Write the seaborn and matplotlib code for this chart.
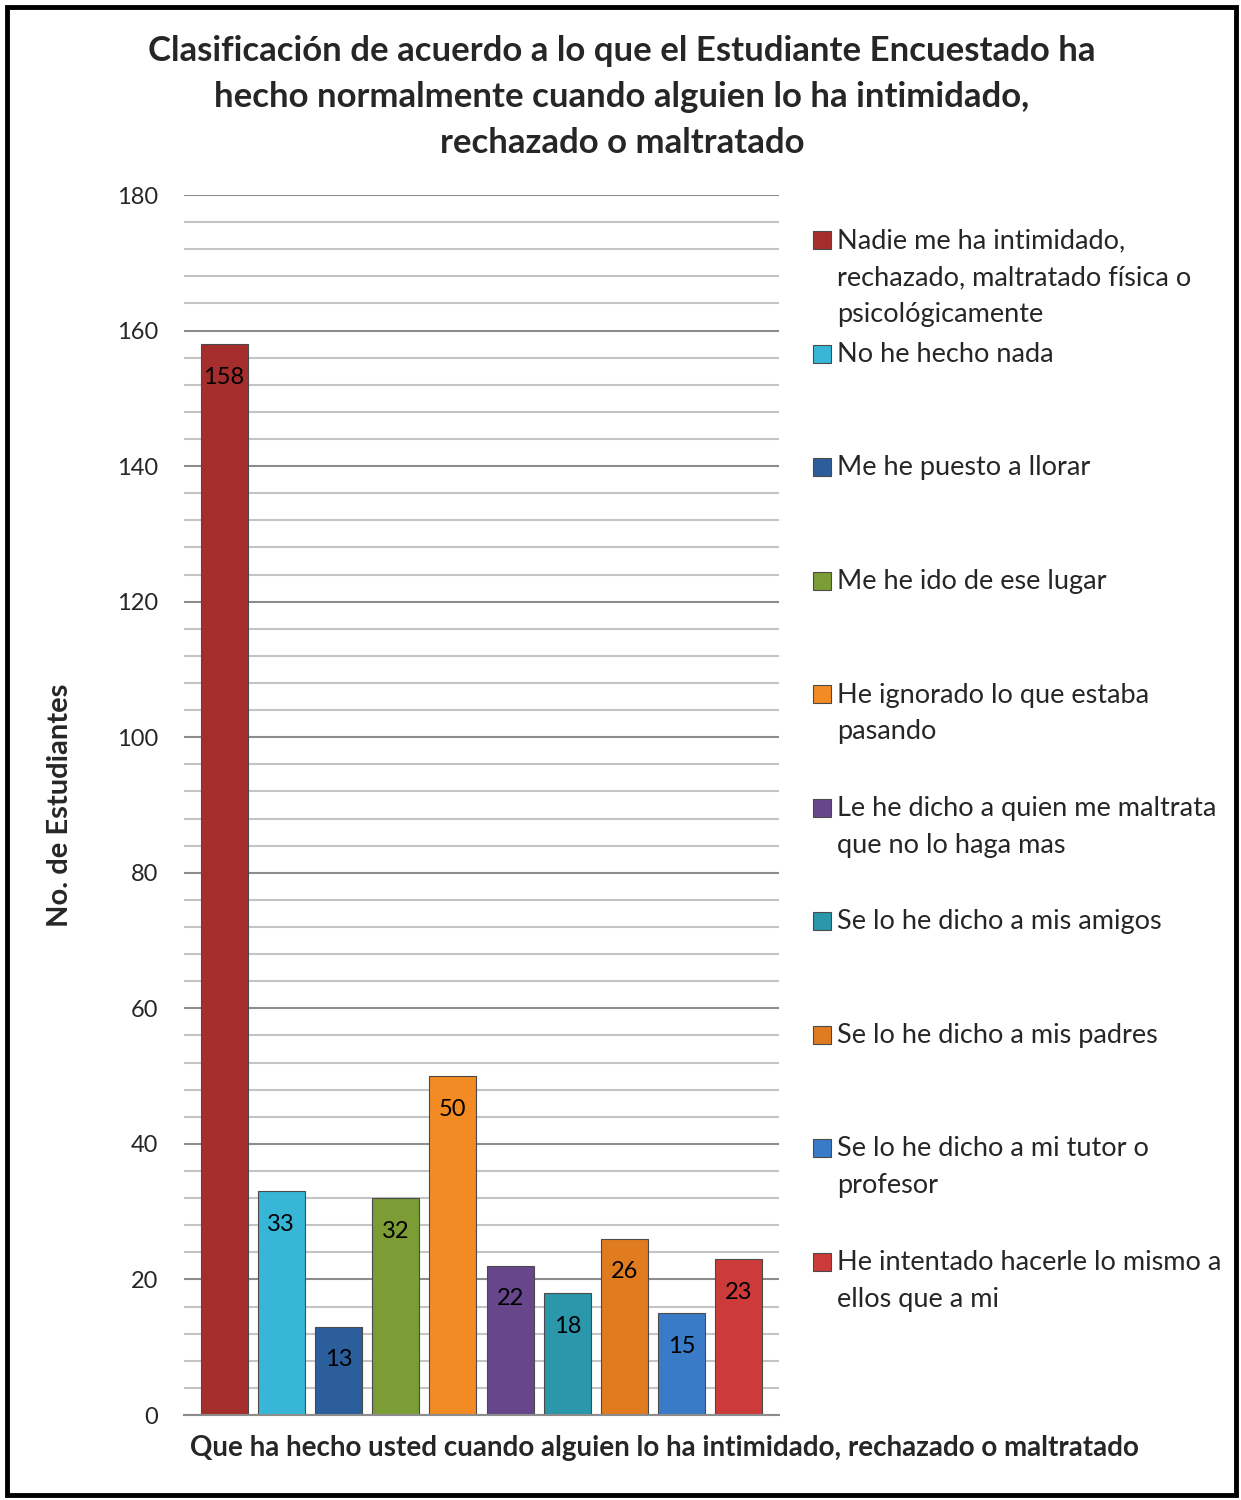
import matplotlib
matplotlib.use("Agg")
import matplotlib.pyplot as plt
import seaborn as sns
import pandas as pd
from matplotlib.patches import Rectangle

categories = [
    "Nadie me ha intimidado,\nrechazado, maltratado física o\npsicológicamente",
    "No he hecho nada",
    "Me he puesto a llorar",
    "Me he ido de ese lugar",
    "He ignorado lo que estaba\npasando",
    "Le he dicho a quien me maltrata\nque no lo haga mas",
    "Se lo he dicho a mis amigos",
    "Se lo he dicho a mis padres",
    "Se lo he dicho a mi tutor o\nprofesor",
    "He intentado hacerle lo mismo a\nellos que a mi",
]
values = [158, 33, 13, 32, 50, 22, 18, 26, 15, 23]
colors = ["#A52E2C", "#38B6D8", "#2D5E9C", "#7C9C36", "#F38B25",
          "#67468C", "#2A97AB", "#E07B20", "#3A7BC8", "#CC3B3A"]

title = ("Clasificación de acuerdo a lo que el Estudiante Encuestado ha\n"
         "hecho normalmente cuando alguien lo ha intimidado,\n"
         "rechazado o maltratado")
ylabel = "No. de Estudiantes"
xlabel = "Que ha hecho usted cuando alguien lo ha intimidado, rechazado o maltratado"

sns.set_theme(style="white")
plt.rcParams['font.family'] = ['Lato', 'DejaVu Sans']

W, H = 1241, 1500
fig = plt.figure(figsize=(W / 100, H / 100), dpi=100)
fig.patch.set_facecolor("white")

ax_l, ax_r, ax_t, ax_b = 184, 779, 195, 1415
ax = fig.add_axes([ax_l / W, 1 - ax_b / H, (ax_r - ax_l) / W, (ax_b - ax_t) / H])

df = pd.DataFrame({"cat": categories, "val": values})
sns.barplot(data=df, x="cat", y="val", hue="cat", palette=colors,
            legend=False, width=0.82, ax=ax, saturation=1,
            edgecolor="#4a4a4a", linewidth=0.8)

ax.set_ylim(0, 180)
ax.set_xlim(-0.7, 9.7)
ax.set_yticks(range(0, 181, 20))
ax.set_yticks(range(0, 181, 4), minor=True)
ax.grid(axis="y", which="major", color="#8c8c8c", linewidth=1.5, zorder=0)
ax.grid(axis="y", which="minor", color="#c4c4c4", linewidth=1.5, zorder=0)
ax.set_axisbelow(True)
for s in ["top", "right", "left"]:
    ax.spines[s].set_visible(False)
ax.spines["bottom"].set_color("#8c8c8c")
ax.spines["bottom"].set_linewidth(1.5)
ax.set_xticks([])
ax.tick_params(axis="y", which="both", length=0, pad=18.5, labelsize=17)
ax.set_xlabel("")
ax.set_ylabel("")

for cont in ax.containers:
    for p in cont:
        h = p.get_height()
        ax.annotate(f"{int(round(h))}", (p.get_x() + p.get_width() / 2, h),
                    xytext=(0, -23.8), textcoords="offset points",
                    ha="center", va="center", fontsize=17, color="black")

fig.text(622 / W, 1 - 97 / H, title, ha="center", va="center",
         fontsize=25, fontweight="bold", linespacing=1.53)
fig.text(60 / W, 1 - 805 / H, ylabel, ha="center", va="center",
         rotation=90, fontsize=21, fontweight="bold")
fig.text(664 / W, 1 - 1448 / H, xlabel, ha="center", va="center",
         fontsize=20, fontweight="bold")

# legend
y0 = 240
step = 113.5
for i, (lab, c) in enumerate(zip(categories, colors)):
    yc = y0 + i * step
    fig.patches.append(Rectangle((813 / W, 1 - (yc + 9) / H), 18 / W, 18 / H,
                                 transform=fig.transFigure, facecolor=c,
                                 edgecolor="#4a4a4a", linewidth=0.8))
    fig.text(837 / W, 1 - (yc - 11.5) / H, lab, ha="left", va="top",
             fontsize=19.5, linespacing=1.58)

fig.patches.append(Rectangle((7 / W, 5 / H), (W - 12) / W, (H - 12) / H,
                             transform=fig.transFigure, fill=False,
                             edgecolor="black", linewidth=3.5))

fig.savefig("out.png", dpi=100)
